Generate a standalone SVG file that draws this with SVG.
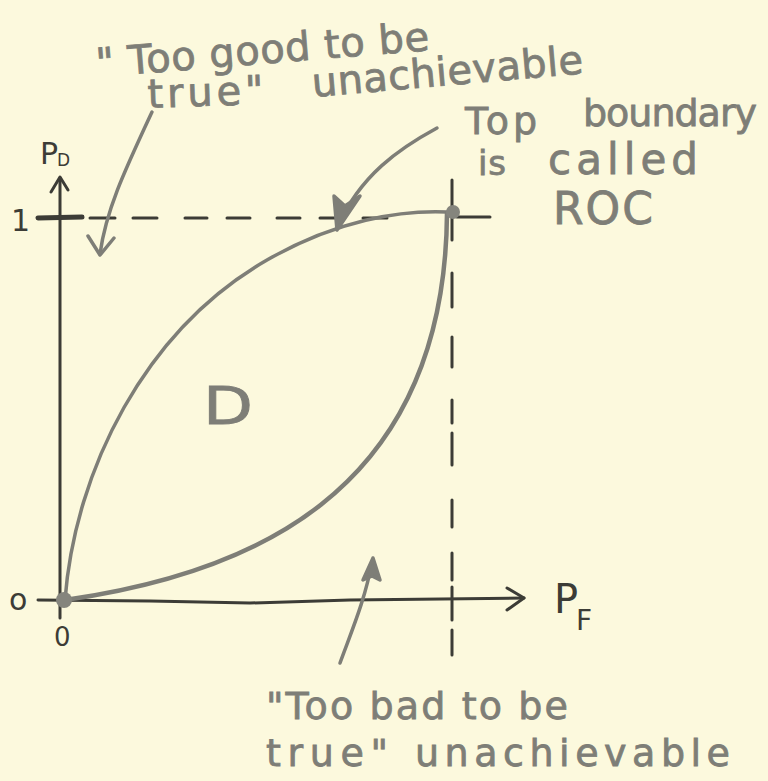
<svg xmlns="http://www.w3.org/2000/svg" width="768" height="781" viewBox="0 0 768 781">
<style>
.bg{fill:#fcf9dd}
.ink{fill:none;stroke:#3c3c36;stroke-width:3;stroke-linecap:round;stroke-linejoin:round}
.gray{fill:none;stroke:#7e7e77;stroke-width:3.5;stroke-linecap:round;stroke-linejoin:round}
.dash{fill:none;stroke:#3c3c36;stroke-width:3;stroke-linecap:round}
.t{font-family:"DejaVu Sans","Liberation Sans",sans-serif;fill:#7e7e77;stroke:#7e7e77;stroke-width:0.8}
.d{font-family:"DejaVu Sans","Liberation Sans",sans-serif;fill:#3c3c36}
.pt{fill:#85857d}
</style>
<rect class="bg" x="0" y="0" width="768" height="781"/>

<g id="axes">
  <path class="ink" d="M60,618 L60,178"/>
  <path class="ink" d="M51,192 L60,177 L68,190"/>
  <path class="ink" d="M38,600 L150,601 L250,603 L350,600 L524,598"/>
  <path class="ink" d="M507,588 L524,598 L507,610"/>
  <path class="ink" style="stroke-width:5" d="M38,218 L82,217"/>
</g>

<g id="dashed-lines">
  <path class="dash" d="M90,218 H115 M133,218 H157 M185,218 H207 M227,218 H250 M277,218 H300 M320,218 H343 M363,218 H387 M457,217 H490"/>
  <path class="dash" d="M452,180 V240 M452,273 V307 M452,337 V367 M452,400 V423 M452,433 V465 M452,500 V527 M452,553 V580 M452,587 V620 M452,630 V655"/>
</g>

<g id="curves">
  <path id="roc-upper" class="gray" d="M65,600 C75,470 145,330 267,260 C337,220 400,210 447,212"/>
  <path id="roc-lower" class="gray" style="stroke-width:4.5" d="M65,600 C240,575 445,500 447,213"/>
  <circle class="pt" cx="453" cy="212" r="7"/>
  <circle class="pt" cx="64" cy="600" r="8"/>
</g>

<g id="connectors">
  <path class="gray" d="M152,112 C125,170 106,210 100,254"/>
  <path class="gray" d="M88,236 L100,255 L114,238"/>
  <path class="gray" d="M437,128 C400,148 360,175 337,228"/>
  <path class="gray" style="fill:#7e7e77" d="M337,230 L334,196 L345,206 L360,196 Z"/>
  <path class="gray" d="M340,663 C352,630 365,600 372,562"/>
  <path class="gray" style="fill:#7e7e77" d="M373,558 L363,580 L372,576 L380,580 Z"/>
</g>

<g id="axis-labels">
  <text class="d" x="40" y="164" font-size="30">P</text>
  <text class="d" x="57" y="166" font-size="17">D</text>
  <text class="d" x="11" y="231" font-size="30">1</text>
  <text class="d" x="9" y="610" font-size="30">o</text>
  <text class="d" x="54" y="646" font-size="26">0</text>
  <text class="d" x="554" y="613" font-size="40">P</text>
  <text class="d" x="576" y="630" font-size="28">F</text>
</g>

<g id="region-label">
  <text class="t" x="203" y="424" font-size="52" textLength="50" lengthAdjust="spacingAndGlyphs">D</text>
</g>

<g id="label-too-good">
  <text class="t" font-size="40" transform="translate(97,77) rotate(-4.6)" textLength="334" lengthAdjust="spacing">" Too good to be</text>
  <text class="t" font-size="40" transform="translate(148,108) rotate(-2)" textLength="116" lengthAdjust="spacing">true"</text>
  <text class="t" font-size="40" transform="translate(313,97) rotate(-5)" textLength="272" lengthAdjust="spacing">unachievable</text>
</g>

<g id="label-roc">
  <text class="t" font-size="38" x="465" y="134" textLength="72" lengthAdjust="spacing">Top</text>
  <text class="t" font-size="38" x="583" y="126" textLength="174" lengthAdjust="spacing">boundary</text>
  <text class="t" font-size="34" x="478" y="175" textLength="28" lengthAdjust="spacing">is</text>
  <text class="t" font-size="42" x="548" y="174" textLength="150" lengthAdjust="spacing">called</text>
  <text class="t" font-size="44" x="553" y="224" textLength="100" lengthAdjust="spacing">ROC</text>
</g>

<g id="label-too-bad">
  <text class="t" font-size="38" x="266" y="719" textLength="302" lengthAdjust="spacing">"Too bad to be</text>
  <text class="t" font-size="38" x="266" y="766" textLength="122" lengthAdjust="spacing">true"</text>
  <text class="t" font-size="38" x="415" y="766" textLength="315" lengthAdjust="spacing">unachievable</text>
</g>
</svg>
